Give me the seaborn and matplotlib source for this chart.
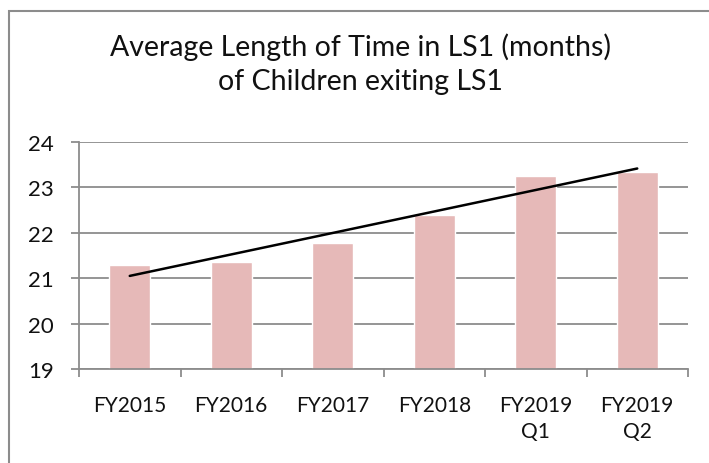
import numpy as np
import pandas as pd
import seaborn as sns
import matplotlib.pyplot as plt
from matplotlib.patches import Rectangle
from matplotlib.ticker import FixedLocator

# values
periods = ["FY2015", "FY2016", "FY2017", "FY2018", "FY2019\nQ1", "FY2019\nQ2"]
avg_months = [21.29, 21.35, 21.77, 22.40, 23.26, 23.33]
y_ticks = [19, 20, 21, 22, 23, 24]

df = pd.DataFrame({"Period": periods, "Months": avg_months})

sns.set_style("white")
plt.rcParams['font.family'] = ['Lato', 'DejaVu Sans']

fig = plt.figure(figsize=(7.09, 4.64), dpi=100)
ax = fig.add_axes([79 / 709, 1 - 370 / 464, (688 - 79) / 709, (370 - 143) / 464])

sns.barplot(data=df, x="Period", y="Months", color="#E6B9B8", width=0.4,
            saturation=1, ax=ax, zorder=2)

# linear trend line like Excel's
pos = np.arange(len(avg_months))
slope, intercept = np.polyfit(pos, avg_months, 1)
ax.plot(pos, slope * pos + intercept, color="black", lw=1.8, zorder=3)

grid_col = "#8C8C8C"
ax.set_ylim(19, 24)
ax.set_xlim(-0.5, len(periods) - 0.5)
ax.set_yticks(y_ticks)
ax.yaxis.grid(True, color=grid_col, lw=1.3, zorder=0)
ax.set_axisbelow(True)

for s in ["top", "right"]:
    ax.spines[s].set_visible(False)
for s in ["left", "bottom"]:
    ax.spines[s].set_color(grid_col)
    ax.spines[s].set_linewidth(1.3)

ax.tick_params(axis="y", length=6, width=1.3, color=grid_col, pad=12,
               labelsize=16, left=True, labelcolor="#111111")
ax.tick_params(axis="x", which="major", length=0, pad=19, labelsize=15,
               labelcolor="#111111")
for lab in ax.get_xticklabels():
    lab.set_linespacing(1.35)
ax.xaxis.set_minor_locator(FixedLocator(np.arange(-0.5, len(periods), 1.0)))
ax.tick_params(axis="x", which="minor", length=6, width=1.3, color=grid_col,
               bottom=True)
ax.set_xlabel("")
ax.set_ylabel("")

fig.text(0.508, 1 - 47 / 464, "Average Length of Time in LS1 (months)",
         ha="center", va="center", fontsize=20.5, color="#111111")
fig.text(0.508, 1 - 82 / 464, "of Children exiting LS1",
         ha="center", va="center", fontsize=20.5, color="#111111")

# chart area border (cropped at right and bottom)
fig.patches.append(Rectangle((9 / 709, -0.1), 1.2, 1 - 12 / 464 + 0.1,
                             transform=fig.transFigure, fill=False,
                             edgecolor="#8C8C8C", lw=1.5))

fig.savefig("out.png", dpi=100)
